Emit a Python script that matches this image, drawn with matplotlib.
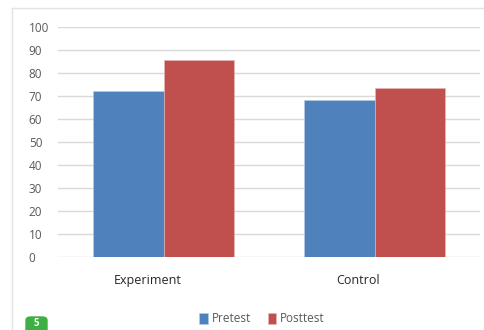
import matplotlib.pyplot as plt
import matplotlib.transforms as mtransforms
import numpy as np
from matplotlib.patches import FancyBboxPatch
from matplotlib.lines import Line2D

groups = ["Experiment", "Control"]
pretest = [72.5, 68.2]
posttest = [85.8, 73.7]
yticks = list(range(0, 101, 10))

plt.rcParams['font.family'] = ['Open Sans', 'DejaVu Sans']

fig = plt.figure(figsize=(4.84, 3.30), dpi=100)
ax = fig.add_axes([58 / 484, 72.7 / 330, 422 / 484, 230 / 330])

x = np.arange(len(groups))
w = 0.332
ax.bar(x - w / 2, pretest, width=w, color="#4f81bd", edgecolor="#b9cde5", linewidth=0.4,
       label="Pretest", zorder=3)
ax.bar(x + w / 2, posttest, width=w, color="#c0504d", edgecolor="#e6b9b8", linewidth=0.4,
       label="Posttest", zorder=3)

ax.set_xlim(-0.5, len(groups) - 0.5)
ax.set_ylim(0, 100)
ax.set_yticks(yticks)
ax.yaxis.grid(True, color="#d9d9d9", linewidth=1.0, zorder=0)
ax.tick_params(axis="y", length=0, pad=21, labelsize=8.5, labelcolor="#595959")
ax.tick_params(axis="x", length=0, pad=12, labelsize=9, labelcolor="#262626")
for lbl in ax.get_yticklabels():
    lbl.set_horizontalalignment("left")
ax.set_xticks(x)
ax.set_xticklabels(groups)
# category labels sit a little left of the bar pair centres
shift = mtransforms.ScaledTranslation(-16 / 100, 0, fig.dpi_scale_trans)
for lbl in ax.get_xticklabels():
    lbl.set_transform(lbl.get_transform() + shift)
for s in ax.spines.values():
    s.set_visible(False)

leg = fig.legend(loc="center", bbox_to_anchor=(262 / 484, 1 - 319 / 330), ncol=2,
                 frameon=False, fontsize=8.5, handlelength=0.75, handleheight=1.1,
                 handletextpad=0.3, columnspacing=1.4)
for t in leg.get_texts():
    t.set_color("#595959")

# outer frame lines of the chart area
fig.add_artist(Line2D([12 / 484, 12 / 484], [0, 1 - 8 / 330], transform=fig.transFigure,
                      color="#e3e3e3", linewidth=1.0))
fig.add_artist(Line2D([12 / 484, 1], [1 - 8 / 330, 1 - 8 / 330], transform=fig.transFigure,
                      color="#e3e3e3", linewidth=1.0))

# small green number badge at the bottom left
badge = FancyBboxPatch((26 / 484, -0.02), 21 / 484, 13 / 330 + 0.02,
                       boxstyle="round,pad=0,rounding_size=0.01",
                       transform=fig.transFigure, color="#3cb043", zorder=5)
fig.add_artist(badge)
fig.text(36.5 / 484, 0.002, "5", color="white", fontsize=7, ha="center", va="bottom",
         fontweight="bold", zorder=6)

fig.savefig("out.png", dpi=100)
